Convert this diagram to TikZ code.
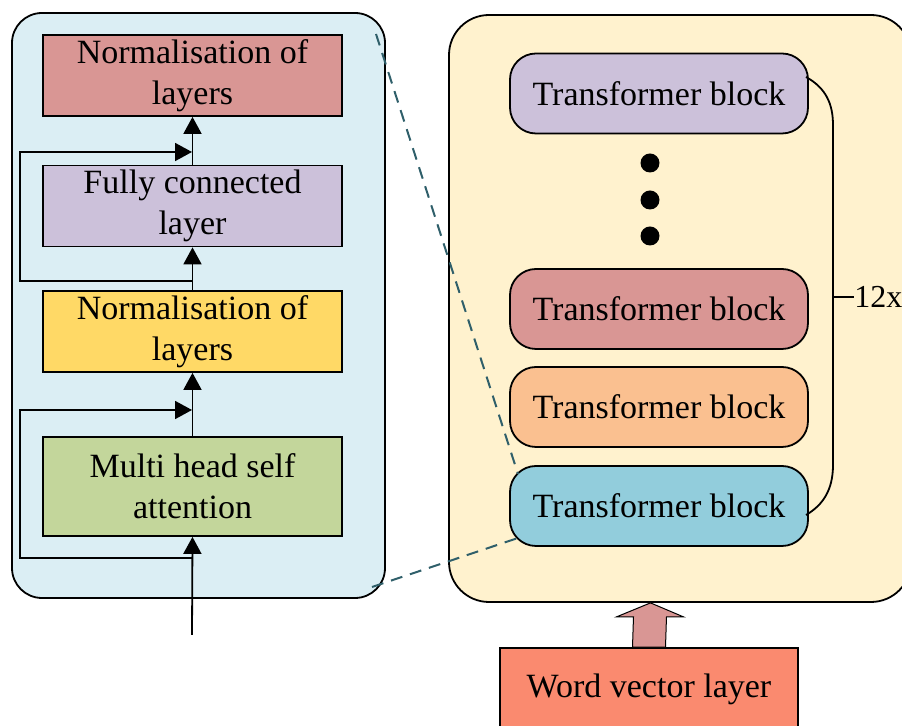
\documentclass[tikz,border=0pt]{standalone}
\usepackage{fontspec}
\setmainfont{Liberation Serif}
\usetikzlibrary{arrows.meta,calc}

\definecolor{panelblue}{RGB}{219,238,244}
\definecolor{panelyellow}{RGB}{255,242,206}
\definecolor{normred}{RGB}{217,150,148}
\definecolor{fcpurple}{RGB}{204,193,218}
\definecolor{normyellow}{RGB}{255,217,102}
\definecolor{attgreen}{RGB}{195,214,155}
\definecolor{tforange}{RGB}{250,192,144}
\definecolor{tfblue}{RGB}{146,205,220}
\definecolor{wordred}{RGB}{250,138,111}
\definecolor{dashteal}{RGB}{47,95,106}

\tikzset{
  panel/.style={draw, line width=0.9pt, inner sep=0pt},
  layerbox/.style={draw, line width=0.9pt, minimum width=149.5pt, minimum height=40.5pt,
    align=center, inner sep=2pt, font=\fontsize{17}{20.5}\selectfont},
  tfblock/.style={draw, line width=0.9pt, rounded corners=13pt, minimum width=149pt,
    minimum height=40pt, font=\fontsize{17}{20.5}\selectfont},
  flow/.style={-{Triangle[length=8.5pt,width=9pt]}, line width=0.9pt},
  link/.style={dashteal, dash pattern=on 6pt off 4pt, line width=1pt},
}

\begin{document}
\begin{tikzpicture}[x=0.5pt, y=-0.5pt]
            \useasboundingbox (0,0) rectangle (902,726);

            % encoder panel
            \node[panel, fill=panelblue, rounded corners=15pt, minimum width=186.5pt,
              minimum height=292.5pt] (enc) at (198.5,305.5) {};
            \node[layerbox, fill=normred] (nr) at (192.5,75.5) {Normalisation of\\layers};
            \node[layerbox, fill=fcpurple] (fc) at (192.5,206) {Fully connected\\layer};
            \node[layerbox, fill=normyellow] (ny) at (192.5,331.5) {Normalisation of\\layers};
            \node[layerbox, fill=attgreen, minimum height=49.5pt] (att) at (192.5,486.5)
              {Multi head self\\attention};

            \coordinate (in) at (192,635);
            \coordinate (s1) at (192,558);
            \coordinate (m1) at (192,410);
            \coordinate (s2) at (192,281);
            \coordinate (m2) at (192,152);

            \draw[flow] (in) -- (att.south);
            \draw[flow] (att.north) -- (ny.south);
            \draw[flow] (ny.north) -- (fc.south);
            \draw[flow] (fc.north) -- (nr.south);
            \draw[flow] (s1) -| (20,410) -- (m1);
            \draw[flow] (s2) -| (20,152) -- (m2);

            % stack panel
            \node[panel, fill=panelyellow, rounded corners=20pt, minimum width=231pt,
              minimum height=293.5pt] (stack) at (680,308.5) {};
            \node[tfblock, fill=fcpurple] (b1) at (659,93.5) {Transformer block};
            \node[tfblock, fill=normred] (b2) at (659,309) {Transformer block};
            \node[tfblock, fill=tforange] (b3) at (659,407) {Transformer block};
            \node[tfblock, fill=tfblue] (b4) at (659,506) {Transformer block};

            \foreach \y in {163,200,236}
              \fill (650,\y) circle (9.5);

            \draw[line width=0.9pt] (806,77) .. controls (826,88) and (833,104) .. (833,125)
              -- (833,465) .. controls (833,490) and (823,505) .. (806,515);
            \draw[line width=0.9pt] (833,297) -- (854,297);
            \node[anchor=west, inner sep=0pt, font=\fontsize{16}{20}\selectfont] (rep) at (854,297) {12x};

            % zoom lines
            \coordinate (z1) at (376,34);
            \coordinate (z2) at (372,587);
            \coordinate (c1) at (518,474);
            \coordinate (c2) at (518,538);
            \draw[link] (z1) -- (c1);
            \draw[link] (z2) -- (c2);

            % input
            \node[layerbox, fill=wordred, minimum width=149pt, minimum height=41pt] (word)
              at (649,689) {Word vector layer};
            \draw[fill=normred, line width=0.5pt]
              ($(word.north)+(-16.5,0)$) -- ($(stack.south)+(-46.5,14)$)
              -- ($(stack.south)+(-63.5,14)$) -- ($(stack.south)+(-29.5,0)$)
              -- ($(stack.south)+(3.5,14)$) -- ($(stack.south)+(-13.5,14)$)
              -- ($(word.north)+(16.5,0)$) -- cycle;
\end{tikzpicture}
\end{document}
